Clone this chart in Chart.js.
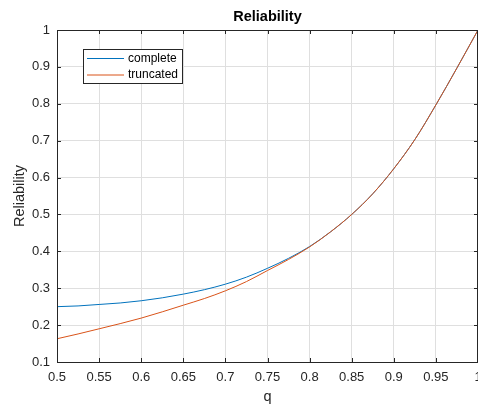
<!DOCTYPE html>
<html>
<head>
<meta charset="utf-8">
<script src="https://cdn.jsdelivr.net/npm/chart.js@4.4.0/dist/chart.umd.min.js"></script>
<style>
html,body{margin:0;padding:0;background:#fff;overflow:hidden;}
#wrap{position:relative;width:478px;height:408px;}
</style>
</head>
<body>
<div id="wrap"><canvas id="c" width="478" height="408"></canvas></div>
<script>
// ---- data ----
const qValues = [0.5,0.525,0.55,0.575,0.6,0.625,0.65,0.675,0.7,0.725,0.75,0.775,0.8,0.825,0.85,0.875,0.9,0.925,0.95,0.975,1.0];
const completeValues = [0.250,0.252,0.256,0.260,0.266,0.274,0.284,0.296,0.311,0.330,0.354,0.381,0.413,0.453,0.500,0.556,0.624,0.703,0.797,0.897,1.0];
const truncatedValues = [0.163,0.176,0.190,0.204,0.219,0.236,0.254,0.272,0.293,0.318,0.348,0.378,0.412,0.453,0.500,0.556,0.624,0.703,0.797,0.897,1.0];
const seriesNames = ['complete','truncated'];
const xTickLabels = ['0.5','0.55','0.6','0.65','0.7','0.75','0.8','0.85','0.9','0.95','1'];
const yTickLabels = ['0.1','0.2','0.3','0.4','0.5','0.6','0.7','0.8','0.9','1'];
const chartTitle = 'Reliability';
const xTitle = 'q';
const yTitle = 'Reliability';

const FONT = "'Liberation Sans', Arial, Helvetica, sans-serif";
const AX = '#262626';

function toXY(xs, ys){ return xs.map((x,i)=>({x:x,y:ys[i]})); }
function labelFor(list, v){
  const idx = list.findIndex(s => Math.abs(parseFloat(s) - v) < 1e-6);
  return idx >= 0 ? list[idx] : '';
}

const decorPlugin = {
  id: 'decor',
  afterDatasetsDraw(chart){
    const ctx = chart.ctx, a = chart.chartArea;
    const xs = chart.scales.x, ys = chart.scales.y;
    ctx.save();
    // inner tick marks on all four sides
    ctx.strokeStyle = AX; ctx.lineWidth = 1;
    const tl = 4;
    ctx.beginPath();
    xs.ticks.forEach(t => {
      const px = Math.round(xs.getPixelForValue(t.value)) + 0.5;
      ctx.moveTo(px, a.bottom); ctx.lineTo(px, a.bottom - tl);
      ctx.moveTo(px, a.top); ctx.lineTo(px, a.top + tl);
    });
    ys.ticks.forEach(t => {
      const py = Math.round(ys.getPixelForValue(t.value)) + 0.5;
      ctx.moveTo(a.left, py); ctx.lineTo(a.left + tl, py);
      ctx.moveTo(a.right, py); ctx.lineTo(a.right - tl, py);
    });
    ctx.stroke();
    // axes box
    ctx.beginPath();
    ctx.rect(Math.round(a.left)+0.5, Math.round(a.top)+0.5, Math.round(a.right - a.left) - 1, Math.round(a.bottom - a.top));
    ctx.stroke();

    // legend box
    const lx = 83.5, ly = 49.5, lw = 99, lh = 34;
    ctx.fillStyle = '#fff';
    ctx.fillRect(lx, ly, lw, lh);
    ctx.strokeStyle = AX;
    ctx.strokeRect(lx, ly, lw, lh);
    ctx.font = '12px ' + FONT;
    ctx.textBaseline = 'middle';
    ctx.textAlign = 'left';
    chart.data.datasets.forEach((ds, i) => {
      const yy = 58.5 + i * 16.5;
      ctx.strokeStyle = ds.borderColor; ctx.lineWidth = 1;
      ctx.beginPath(); ctx.moveTo(87, yy); ctx.lineTo(124, yy); ctx.stroke();
      ctx.fillStyle = '#000';
      ctx.fillText(ds.label, 128, yy);
    });

    // title centred over plot area
    ctx.font = 'bold 14.5px ' + FONT;
    ctx.fillStyle = '#000';
    ctx.textAlign = 'center';
    ctx.textBaseline = 'middle';
    ctx.fillText(chartTitle, (a.left + a.right) / 2, 17);
    ctx.restore();
  }
};

new Chart(document.getElementById('c'), {
  type: 'line',
  data: {
    datasets: [
      { label: seriesNames[0], order: 1, data: toXY(qValues, completeValues), borderColor: '#0072BD', backgroundColor: '#0072BD', borderWidth: 1, pointRadius: 0, fill: false, cubicInterpolationMode: 'monotone' },
      { label: seriesNames[1], order: 0, data: toXY(qValues, truncatedValues), borderColor: '#D95319', backgroundColor: '#D95319', borderWidth: 1, pointRadius: 0, fill: false, cubicInterpolationMode: 'monotone' }
    ]
  },
  options: {
    responsive: false,
    animation: false,
    devicePixelRatio: 1,
    layout: { padding: { top: 30, right: 0, bottom: 0, left: 0 } },
    plugins: { legend: { display: false }, title: { display: false }, tooltip: { enabled: false } },
    scales: {
      x: {
        type: 'linear', min: 0.5, max: 1,
        ticks: { stepSize: 0.05, color: AX, font: { family: FONT, size: 13 }, padding: 8, maxRotation: 0, autoSkip: false,
                 callback: (v) => labelFor(xTickLabels, v) },
        grid: { color: '#dfdfdf', lineWidth: 1, drawTicks: false },
        border: { display: false },
        title: { display: true, text: xTitle, color: AX, font: { family: FONT, size: 14.5 }, padding: { top: 0, bottom: 2 } },
        afterFit(s){ s.height = 46; s.paddingLeft = 0; s.paddingRight = 0; }
      },
      y: {
        type: 'linear', min: 0.1, max: 1,
        ticks: { stepSize: 0.1, color: AX, font: { family: FONT, size: 13 }, padding: 7, autoSkip: false,
                 callback: (v) => labelFor(yTickLabels, v) },
        grid: { color: '#dfdfdf', lineWidth: 1, drawTicks: false },
        border: { display: false },
        title: { display: true, text: yTitle, color: AX, font: { family: FONT, size: 14.5 }, padding: { top: 11, bottom: 0 } },
        afterFit(s){ s.width = 57; s.paddingTop = 0; s.paddingBottom = 0; }
      }
    }
  },
  plugins: [decorPlugin]
});
</script>
</body>
</html>
